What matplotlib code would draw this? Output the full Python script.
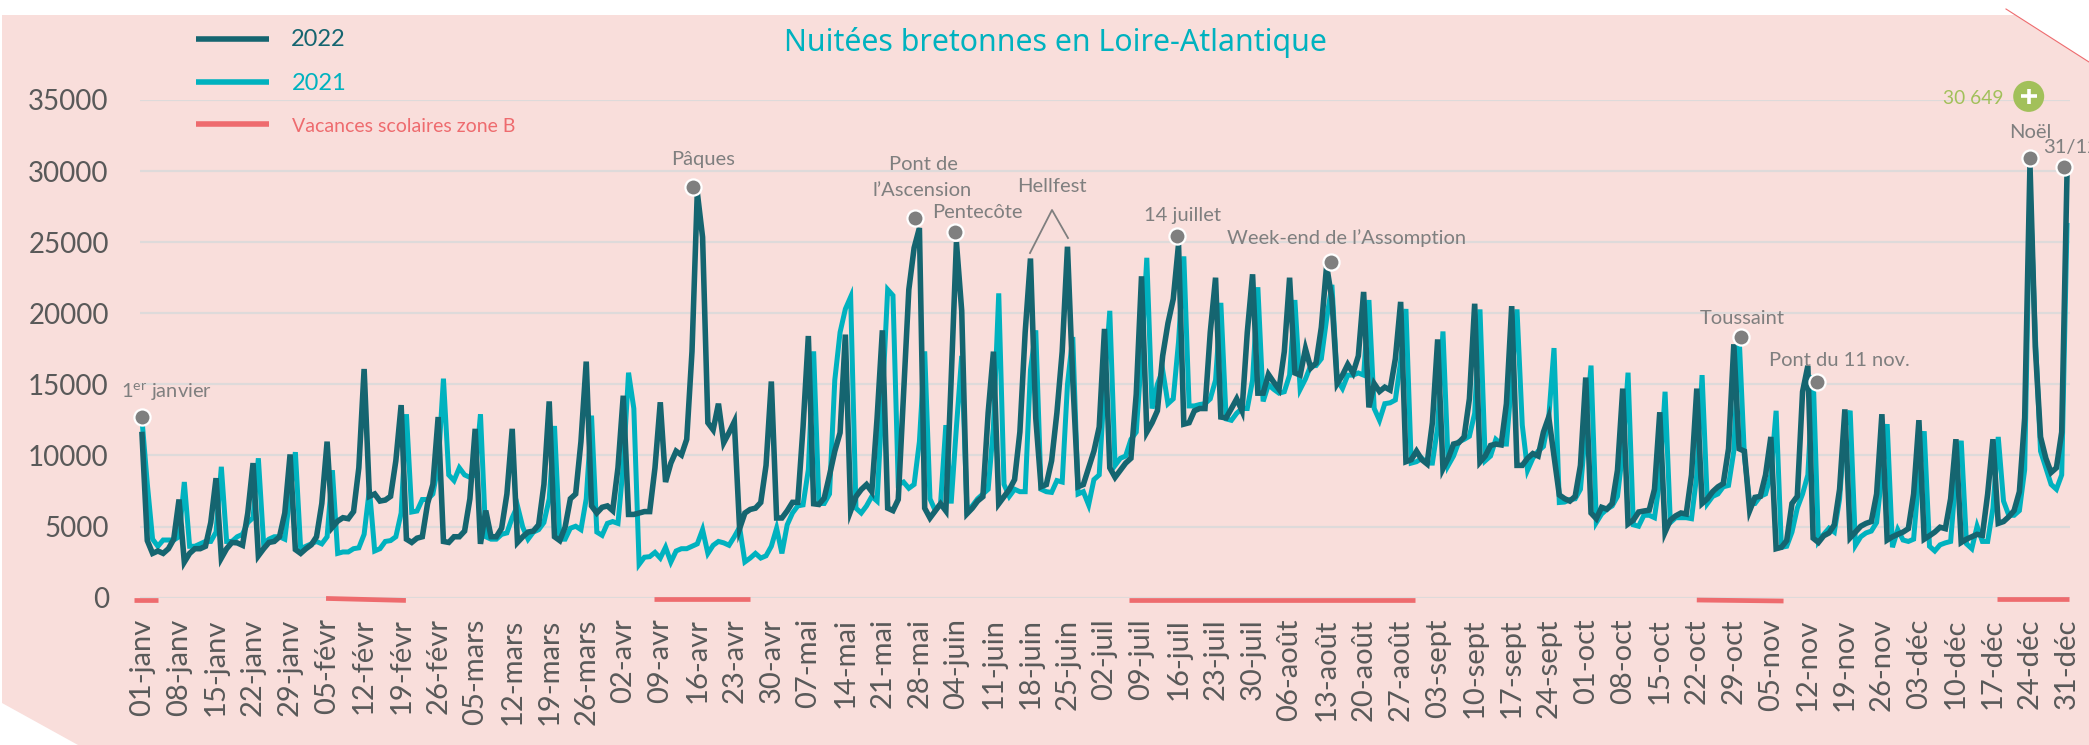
import numpy as np
import matplotlib
matplotlib.use("Agg")
import matplotlib.pyplot as plt
from matplotlib.lines import Line2D
from matplotlib.patches import Polygon, Circle

plt.rcParams["font.family"] = ["Lato", "DejaVu Sans"]
plt.rcParams["mathtext.default"] = "regular"

# daily values, one row = one week starting on 1 january
nuitees_2022 = [
    11470, 4010, 3110, 3280, 3110, 3440, 4110,
    6900, 2500, 3110, 3440, 3440, 3610, 5280,
    8400, 2780, 3440, 3880, 3850, 3680, 5950,
    9460, 2940, 3440, 3880, 3950, 4280, 5950,
    10070, 3380, 3110, 3440, 3710, 4280, 6620,
    10970, 4950, 5380, 5620, 5550, 6050, 9130,
    16080, 7120, 7290, 6790, 6860, 7120, 9630,
    13540, 4110, 3880, 4180, 4280, 6620, 7960,
    12700, 3950, 3880, 4280, 4280, 4680, 6950,
    11870, 3780, 6120, 4280, 4280, 4880, 7290,
    11870, 3880, 4280, 4610, 4680, 5120, 7960,
    13800, 4280, 4010, 4950, 6950, 7290, 10970,
    16600, 6450, 5950, 6350, 6450, 6120, 9130,
    14200, 5850, 5850, 5950, 6050, 6050, 9130,
    13740, 8130, 9460, 10300, 10030, 11130, 17320,
    28500, 25350, 12300, 11800, 13640, 10900, 11600,
    12370, 4850, 5950, 6200, 6290, 6690, 9300,
    15200, 5600, 5600, 6100, 6700, 6700, 12000,
    18400, 6600, 6550, 7000, 8600, 10300, 11600,
    18500, 6100, 7100, 7600, 7950, 7450, 12640,
    18800, 6290, 6120, 6900, 14300, 21670, 24600,
    26000, 6290, 5600, 6100, 6600, 6100, 15300,
    25000, 20170, 5900, 6290, 6790, 7100, 13000,
    17300, 6600, 7100, 7600, 8300, 11650, 18660,
    23850, 12640, 7800, 7950, 9630, 13000, 17300,
    24680, 15300, 7800, 7950, 9130, 10300, 12000,
    18900, 9130, 8460, 8960, 9460, 9800, 14300,
    22600, 11640, 12300, 13140, 17000, 19300, 21000,
    24850, 12200, 12300, 13140, 13300, 13300, 18660,
    22500, 12700, 12640, 13300, 13980, 13140, 18660,
    22740, 14380, 14380, 15700, 15150, 14650, 17300,
    22500, 15800, 15650, 17500, 16150, 16500, 19000,
    23350, 21000, 15050, 15650, 16400, 15800, 17000,
    21500, 13380, 15050, 14500, 14800, 14600, 16800,
    20800, 9560, 9700, 10300, 9700, 9400, 12300,
    18160, 9060, 9800, 10800, 10900, 11300, 13980,
    20670, 9530, 9960, 10700, 10800, 10740, 13640,
    20500, 9300, 9300, 9800, 10130, 9960, 11640,
    12700, 9960, 7220, 6960, 6790, 7120, 9300,
    15480, 5950, 5550, 6350, 6220, 6620, 8960,
    14700, 5180, 5450, 6020, 6090, 6150, 7620,
    13040, 4610, 5450, 5750, 5950, 5880, 8630,
    14700, 6620, 6950, 7450, 7790, 8020, 10470,
    17820, 10470, 10300, 6120, 7050, 7120, 8630,
    11300, 3440, 3540, 4010, 6620, 7120, 14480,
    16300, 4180, 3880, 4350, 4550, 5120, 7620,
    13240, 4210, 4610, 5020, 5220, 5350, 7290,
    12900, 4050, 4280, 4450, 4610, 4850, 7290,
    12480, 4110, 4350, 4610, 4950, 4850, 6960,
    11140, 3880, 4110, 4280, 4450, 4380, 7290,
    11140, 5220, 5350, 5690, 6120, 7450, 12640,
    30500, 17650, 11300, 9800, 8800, 9130, 11640,
    29700,
]

nuitees_2021 = [
    12500, 8000, 4110, 3610, 4050, 4050, 4050,
    4280, 8130, 3610, 3610, 3780, 3950, 3950,
    4610, 9200, 3950, 3950, 4280, 4450, 5280,
    5620, 9800, 3780, 4110, 4280, 4280, 4110,
    7290, 10230, 3440, 3610, 3780, 3950, 3780,
    4280, 8960, 3110, 3210, 3210, 3440, 3500,
    4450, 7620, 3280, 3440, 3950, 4010, 4280,
    5950, 12900, 6020, 6090, 6900, 6900, 7290,
    9300, 15400, 8630, 8230, 9130, 8630, 8460,
    8630, 12900, 4280, 4110, 4110, 4450, 4550,
    5620, 6450, 4950, 4110, 4610, 4780, 5280,
    6950, 12070, 4110, 4110, 4880, 5020, 4780,
    6950, 12800, 4610, 4380, 5220, 5350, 5220,
    9300, 15820, 13300, 2340, 2840, 2880, 3180,
    2780, 3540, 2500, 3280, 3440, 3440, 3610,
    3780, 4780, 3110, 3680, 3950, 3850, 3680,
    4280, 4950, 2510, 2780, 3110, 2780, 2940,
    3610, 4880, 3110, 5120, 5950, 6450, 6520,
    9000, 17320, 6620, 6620, 7290, 15300, 18660,
    20300, 21150, 6290, 5950, 6450, 7120, 6790,
    14000, 21670, 21250, 7960, 8130, 7690, 7960,
    10970, 17320, 6950, 6120, 6620, 12130, 6620,
    12000, 17000, 6120, 6450, 6950, 7290, 7620,
    12000, 21400, 7960, 7120, 7620, 7450, 7450,
    16000, 18800, 7620, 7450, 7400, 8230, 8130,
    15000, 18330, 7290, 7450, 6520, 8300, 8630,
    15000, 20170, 9300, 9800, 9960, 11130, 11640,
    17000, 23900, 13300, 15000, 16000, 13640, 13980,
    18000, 24000, 13480, 13480, 13580, 13640, 13980,
    15300, 20730, 12570, 12470, 12970, 13300, 13300,
    15300, 21830, 13800, 14980, 14650, 14380, 14480,
    15650, 20930, 14650, 15380, 16320, 16320, 16800,
    19600, 22000, 15300, 14710, 15650, 15650, 15800,
    15650, 20930, 13300, 12470, 13640, 13700, 13900,
    16600, 20300, 9460, 9560, 9800, 9460, 9460,
    12000, 18720, 9300, 9960, 10960, 11130, 11350,
    12970, 20270, 9630, 9960, 11130, 10800, 10800,
    15300, 20270, 12130, 8960, 9800, 10300, 10630,
    12640, 17550, 6690, 6720, 6890, 6950, 7620,
    12000, 16320, 5280, 5880, 6220, 6450, 7120,
    10300, 15820, 5120, 5020, 5790, 5790, 5620,
    8300, 14480, 5280, 5620, 5620, 5620, 5550,
    8630, 15650, 6620, 7120, 7290, 7790, 7890,
    10300, 18400, 9960, 6620, 6620, 7120, 7290,
    8630, 13140, 3540, 3610, 4610, 6290, 7290,
    8630, 15650, 3950, 4450, 4880, 4610, 6950,
    12000, 13140, 3680, 4280, 4550, 4680, 5280,
    8630, 12200, 3540, 4780, 4050, 3950, 4110,
    8630, 11700, 3610, 3280, 3710, 3850, 3950,
    8630, 11030, 3780, 3440, 5020, 3950, 3950,
    6290, 11300, 6790, 5790, 5790, 6120, 9000,
    29000, 18500, 10300, 9130, 7960, 7620, 8630,
    26180,
]

week_labels = [
    "01-janv", "08-janv", "15-janv", "22-janv", "29-janv", "05-févr", "12-févr",
    "19-févr", "26-févr", "05-mars", "12-mars", "19-mars", "26-mars", "02-avr",
    "09-avr", "16-avr", "23-avr", "30-avr", "07-mai", "14-mai", "21-mai", "28-mai",
    "04-juin", "11-juin", "18-juin", "25-juin", "02-juil", "09-juil", "16-juil",
    "23-juil", "30-juil", "06-août", "13-août", "20-août", "27-août", "03-sept",
    "10-sept", "17-sept", "24-sept", "01-oct", "08-oct", "15-oct", "22-oct", "29-oct",
    "05-nov", "12-nov", "19-nov", "26-nov", "03-déc", "10-déc", "17-déc", "24-déc",
    "31-déc",
]

# school holidays (zone B)
vac_start = [-1.6, 34.8, 96.9, 186.6, 294.0, 350.7]
vac_end = [3.1, 49.9, 114.9, 240.7, 310.4, 364.4]
vac_y_start = [-200, -60, -100, -200, -170, -100]
vac_y_end = [-200, -200, -100, -200, -240, -100]

# grey dots placed on the events
event_days = [0, 104.1, 146.2, 153.7, 195.8, 224.8, 302.3, 316.7, 357, 363.5]
event_values = [12700, 28860, 26690, 25690, 25450, 23610, 18300, 15150, 30940, 30270]

W, H = 2089, 745
DARK = "#156570"
TEAL = "#00B2BF"
RED = "#EE6B6E"
GREY = "#7F7F7F"
GREEN = "#A2C05A"
PINK = "#F9DEDB"


def px(x, y):
    return x / W, 1 - y / H


fig = plt.figure(figsize=(W / 100, H / 100), dpi=100, facecolor="white")
fig.patches.append(Polygon([px(2, 15), px(2015, 15), px(2089, 62), px(2089, 745), px(78, 745), px(2, 703)],
                           closed=True, transform=fig.transFigure, facecolor=PINK, edgecolor="none", zorder=-2))
fig.add_artist(Line2D([2006 / W, 1], [1 - 9 / H, 1 - 62 / H], color=RED, lw=0.8))

left, right, top, bottom = 140, 2070, 100, 597.6
ax = fig.add_axes([left / W, 1 - bottom / H, (right - left) / W, (bottom - top) / H], facecolor="none")

days = np.arange(365)
ax.plot(days, nuitees_2021, color=TEAL, lw=3.6, solid_joinstyle="miter", zorder=3, clip_on=False)
ax.plot(days, nuitees_2022, color=DARK, lw=4.0, solid_joinstyle="miter", zorder=4, clip_on=False)

for x0, x1, y0, y1 in zip(vac_start, vac_end, vac_y_start, vac_y_end):
    ax.plot([x0, x1], [y0, y1], color=RED, lw=3.4, solid_capstyle="butt", zorder=3, clip_on=False)

ax.scatter(event_days, event_values, s=135, color=GREY, edgecolors="white", linewidths=1.6, zorder=6, clip_on=False)

ax.set_xlim(-0.38, 364.57)
ax.set_ylim(0, 35000)
ax.set_yticks(np.arange(0, 35001, 5000))
ax.set_xticks(days[::7])
ax.set_xticklabels(week_labels, rotation=90)
ax.tick_params(axis="both", length=0, labelsize=20, labelcolor="#595959")
ax.tick_params(axis="x", pad=15, labelsize=21)
ax.tick_params(axis="y", pad=22.5)
ax.grid(axis="y", color="#DEDADA", lw=1.6, zorder=1)
ax.set_axisbelow(True)
for s in ax.spines.values():
    s.set_visible(False)


def label(x, y, s, color=GREY, size=14.5, ha="center", **kw):
    fx, fy = px(x, y)
    fig.text(fx, fy, s, color=color, fontsize=size, ha=ha, va="center", **kw)


label(1055, 43, "Nuitées bretonnes en Loire-Atlantique", color=TEAL, size=21.8, family="Noto Sans")

# legend
for y, c in zip([39.4, 81.7, 124], [DARK, TEAL, RED]):
    fig.add_artist(Line2D([196 / W, 269 / W], [1 - y / H, 1 - y / H], color=c, lw=4, solid_capstyle="butt"))
label(291, 40, "2022", color=DARK, size=17, ha="left")
label(292, 84, "2021", color=TEAL, size=17, ha="left")
label(292, 126, "Vacances scolaires zone B", color=RED, size=14, ha="left")

# event names
label(167, 392, "1$^{er}$ janvier")
label(703, 160, "Pâques")
label(923, 165, "Pont de")
label(922, 190, "l’Ascension")
label(977, 212, "Pentecôte")
label(1052, 187, "Hellfest")
label(1182, 215, "14 juillet")
label(1347, 238, "Week-end de l’Assomption")
label(1742, 318, "Toussaint")
label(1839, 360, "Pont du 11 nov.")
label(2030, 132, "Noël")
label(2043, 148, "31/12", ha="left")

# Hellfest bracket
fig.add_artist(Line2D([1030 / W, 1052 / W, 1068 / W], [1 - 253 / H, 1 - 210 / H, 1 - 238 / H], color=GREY, lw=1.3))

# total badge
label(1973, 99, "30 649", color=GREEN, size=13.8)
fig.patches.append(Circle((2028.7, H - 96.4), 15.5, transform=None, facecolor=GREEN, edgecolor="none"))
fig.add_artist(Line2D([2021 / W, 2036.5 / W], [1 - 96.4 / H, 1 - 96.4 / H], color="white", lw=2.6, solid_capstyle="butt"))
fig.add_artist(Line2D([2028.7 / W, 2028.7 / W], [1 - 89 / H, 1 - 104 / H], color="white", lw=2.6, solid_capstyle="butt"))

fig.savefig("out.png", dpi=100, facecolor="white")
